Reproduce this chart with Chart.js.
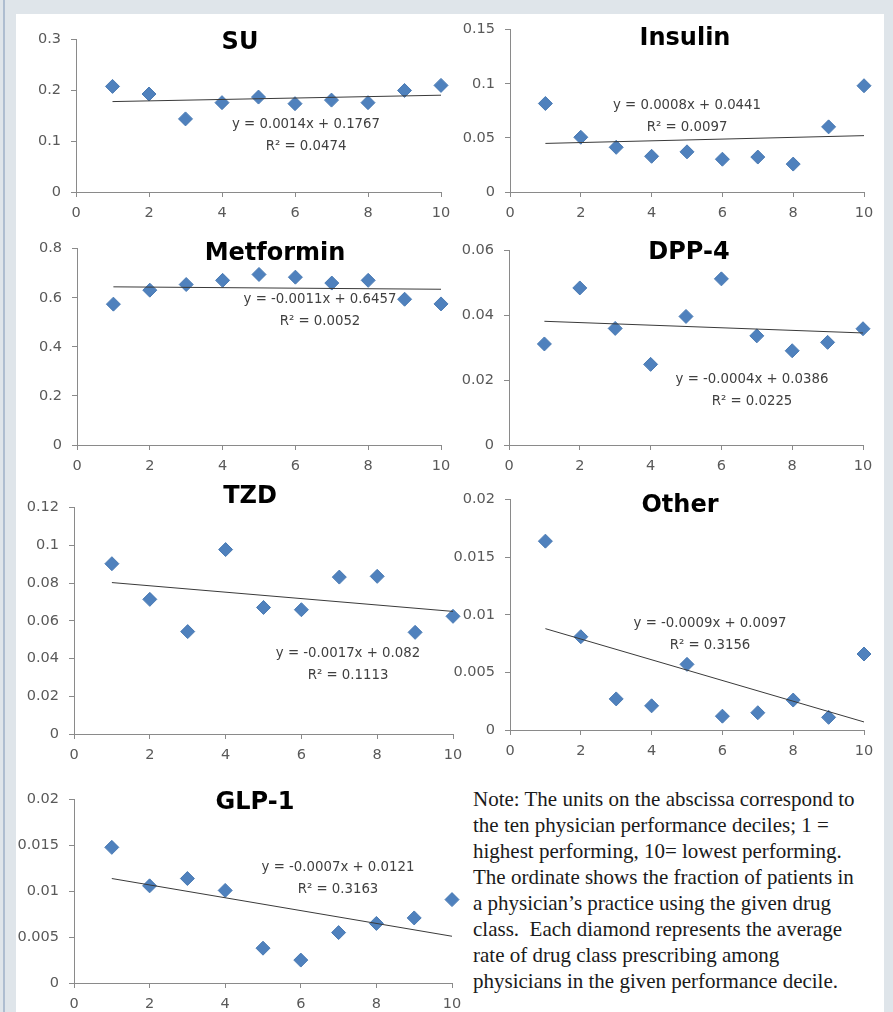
<!DOCTYPE html>
<html>
<head>
<meta charset="utf-8">
<script src="https://cdn.jsdelivr.net/npm/chart.js@4"></script>
<style>
    body { margin: 0; width: 893px; height: 1012px; background: #dfe5ea; position: relative; overflow: hidden; font-family: "DejaVu Sans", sans-serif; }
    #edge { position: absolute; left: 3px; top: 0; width: 2px; height: 1012px; background: #aebdd0; }
    #panel { position: absolute; left: 16px; top: 14px; width: 868px; height: 998px; background: #fff; }
    canvas { position: absolute; }
    .title { position: absolute; transform: translate(-50%, -50%); font-weight: bold; font-size: 24px; color: #000; white-space: nowrap; }
    .eq { position: absolute; transform: translate(-50%, -50%); font-size: 13.3px; line-height: 22px; color: #404040; text-align: center; white-space: nowrap; }
    #note { position: absolute; left: 473px; top: 786px; font-family: "Liberation Serif", serif; font-size: 21px; line-height: 26px; color: #1a1a1a; white-space: nowrap; }
</style>
</head>
<body>
<div id="edge"></div>
<div id="panel"></div>
<div id="note">Note: The units on the abscissa correspond to<br>the ten physician performance deciles; 1 =<br>highest performing, 10= lowest performing.<br>The ordinate shows the fraction of patients in<br>a physician’s practice using the given drug<br>class.&nbsp; Each diamond represents the average<br>rate of drug class prescribing among<br>physicians in the given performance decile.</div>

<script>
// deciles on the x axis
const deciles = [1, 2, 3, 4, 5, 6, 7, 8, 9, 10];
const xTicks = [0, 2, 4, 6, 8, 10];

// average share of patients per decile
const suValues        = [0.208, 0.193, 0.144, 0.176, 0.187, 0.174, 0.181, 0.176, 0.200, 0.210];
const insulinValues   = [0.0818, 0.0506, 0.0413, 0.0330, 0.0371, 0.0303, 0.0323, 0.0258, 0.0602, 0.0982];
const metforminValues = [0.574, 0.631, 0.654, 0.671, 0.695, 0.684, 0.660, 0.671, 0.594, 0.575];
const dpp4Values      = [0.0312, 0.0485, 0.0360, 0.0249, 0.0397, 0.0513, 0.0337, 0.0291, 0.0317, 0.0359];
const tzdValues       = [0.0903, 0.0714, 0.0543, 0.0978, 0.0671, 0.0659, 0.0832, 0.0836, 0.0539, 0.0624];
const otherValues     = [0.0164, 0.0081, 0.0027, 0.0021, 0.0057, 0.0012, 0.0015, 0.0026, 0.0011, 0.0066];
const glp1Values      = [0.0148, 0.0106, 0.0114, 0.0101, 0.0038, 0.0025, 0.0055, 0.0065, 0.0071, 0.0091];

// linear trend line values at decile 1 and decile 10
const suTrend        = [0.1781, 0.1907];
const insulinTrend   = [0.0449, 0.0521];
const metforminTrend = [0.6446, 0.6347];
const dpp4Trend      = [0.0382, 0.0346];
const tzdTrend       = [0.0803, 0.0650];
const otherTrend     = [0.0088, 0.0007];
const glp1Trend      = [0.0114, 0.0051];

// y tick labels
const suTicks        = [0, 0.1, 0.2, 0.3];
const insulinTicks   = [0, 0.05, 0.1, 0.15];
const metforminTicks = [0, 0.2, 0.4, 0.6, 0.8];
const dpp4Ticks      = [0, 0.02, 0.04, 0.06];
const tzdTicks       = [0, 0.02, 0.04, 0.06, 0.08, 0.1, 0.12];
const otherTicks     = [0, 0.005, 0.01, 0.015, 0.02];
const glp1Ticks      = [0, 0.005, 0.01, 0.015, 0.02];

const titles = ['SU', 'Insulin', 'Metformin', 'DPP-4', 'TZD', 'Other', 'GLP-1'];
const equations = [
    ['y = 0.0014x + 0.1767', 'R² = 0.0474'],
    ['y = 0.0008x + 0.0441', 'R² = 0.0097'],
    ['y = -0.0011x + 0.6457', 'R² = 0.0052'],
    ['y = -0.0004x + 0.0386', 'R² = 0.0225'],
    ['y = -0.0017x + 0.082', 'R² = 0.1113'],
    ['y = -0.0009x + 0.0097', 'R² = 0.3156'],
    ['y = -0.0007x + 0.0121', 'R² = 0.3163']
];

// layout: plot area [left, top, right, bottom], title centre, equation centre
const panels = [
    { values: suValues,        trend: suTrend,        ticks: suTicks,        area: [76, 35, 441, 192],  title: [240, 41],  eq: [306, 135] },
    { values: insulinValues,   trend: insulinTrend,   ticks: insulinTicks,   area: [510, 25, 864, 192], title: [685, 37],  eq: [687, 116] },
    { values: metforminValues, trend: metforminTrend, ticks: metforminTicks, area: [77, 244, 441, 445], title: [275, 252], eq: [320, 310] },
    { values: dpp4Values,      trend: dpp4Trend,      ticks: dpp4Ticks,      area: [509, 246, 863, 445], title: [689, 251], eq: [752, 390] },
    { values: tzdValues,       trend: tzdTrend,       ticks: tzdTicks,       area: [74, 503, 453, 734], title: [250, 495], eq: [348, 664] },
    { values: otherValues,     trend: otherTrend,     ticks: otherTicks,     area: [510, 495, 864, 730], title: [680, 504], eq: [710, 634] },
    { values: glp1Values,      trend: glp1Trend,      ticks: glp1Ticks,      area: [74, 795, 452, 983], title: [255, 801], eq: [338, 878] }
];

const axisColor = '#8a8a8a';
const tickFont = { family: 'DejaVu Sans', size: 14.5 };
const yW = 64, xH = 34, padTop = 14, padRight = 18;

function fmt(v) {
    return String(+v.toFixed(4));
}

panels.forEach((p, k) => {
    const [l, t, r, b] = p.area;
    const cv = document.createElement('canvas');
    cv.width = r - l + yW + padRight;
    cv.height = b - t + padTop + xH;
    cv.style.left = (l - yW) + 'px';
    cv.style.top = (t - padTop) + 'px';
    document.body.appendChild(cv);

    new Chart(cv, {
        type: 'scatter',
        data: {
            datasets: [{
                data: deciles.map((d, i) => ({ x: d, y: p.values[i] })),
                pointStyle: 'rectRot',
                pointRadius: 7,
                backgroundColor: '#4f81bd',
                borderColor: '#4a7ab3',
                borderWidth: 1,
                clip: false
            }, {
                data: [{ x: deciles[0], y: p.trend[0] }, { x: deciles[9], y: p.trend[1] }],
                showLine: true,
                borderColor: '#3a3a3a',
                borderWidth: 1,
                pointRadius: 0,
                order: -1
            }]
        },
        options: {
            responsive: false,
            animation: false,
            layout: { padding: { top: padTop, right: padRight, left: 0, bottom: 0 } },
            plugins: { legend: { display: false }, tooltip: { enabled: false } },
            scales: {
                x: {
                    type: 'linear', min: 0, max: 10,
                    afterBuildTicks: s => { s.ticks = xTicks.map(v => ({ value: v })); },
                    afterFit: s => { s.height = xH; },
                    border: { color: axisColor },
                    grid: { drawOnChartArea: false, tickLength: 5, color: axisColor },
                    ticks: { padding: 8, color: '#595959', font: tickFont, callback: v => fmt(v) }
                },
                y: {
                    type: 'linear', min: 0, max: p.ticks[p.ticks.length - 1],
                    afterBuildTicks: s => { s.ticks = p.ticks.map(v => ({ value: v })); },
                    afterFit: s => { s.width = yW; },
                    border: { color: axisColor },
                    grid: { drawOnChartArea: false, tickLength: 5, color: axisColor },
                    ticks: { padding: 10, color: '#595959', font: tickFont, callback: v => fmt(v) }
                }
            }
        }
    });

    const title = document.createElement('div');
    title.className = 'title';
    title.textContent = titles[k];
    title.style.left = p.title[0] + 'px';
    title.style.top = p.title[1] + 'px';
    document.body.appendChild(title);

    const eq = document.createElement('div');
    eq.className = 'eq';
    eq.innerHTML = equations[k].join('<br>');
    eq.style.left = p.eq[0] + 'px';
    eq.style.top = p.eq[1] + 'px';
    document.body.appendChild(eq);
});
</script>
</body>
</html>
